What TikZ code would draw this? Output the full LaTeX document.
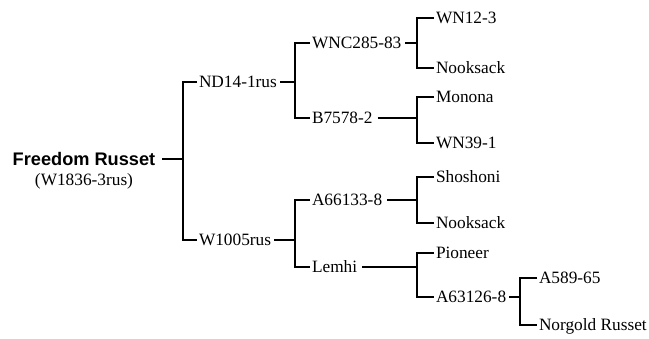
\documentclass[tikz,border=0pt]{standalone}
\usepackage{fontspec}
\setmainfont{Liberation Serif}
\newfontfamily\frsans{Liberation Sans}
\begin{document}
\begin{tikzpicture}[x=1pt,y=1pt,
  lbl/.style={anchor=west,inner sep=0pt,outer sep=2pt,text height=11.6pt,text depth=0pt,font=\fontsize{17.3}{20}\selectfont},
  conn/.style={line width=1.3pt,line join=miter},
  gap/.style={shorten <=#1}]
\useasboundingbox (0,0) rectangle (649,-339);
% root
\node[anchor=center,inner sep=0pt,outer sep=7pt,text height=12.8pt,text depth=0pt,font=\frsans\bfseries\fontsize{18.2}{20}\selectfont] (fr) at (84,-159) {Freedom Russet};
\node[anchor=center,inner sep=0pt,text height=12pt,text depth=3.5pt,font=\fontsize{17.3}{20}\selectfont] (frid) at (84,-181) {(W1836-3rus)};
% level 1
\node[lbl] (nd) at (197,-82) {ND14-1rus};
\node[lbl] (w) at (197,-240) {W1005rus};
% level 2
\node[lbl] (wnc) at (310,-43) {WNC285-83};
\node[lbl] (b75) at (310,-118) {B7578-2};
\node[lbl] (a66) at (310,-200) {A66133-8};
\node[lbl] (lem) at (310,-267) {Lemhi};
% level 3
\node[lbl] (wn12) at (434,-18) {WN12-3};
\node[lbl] (nook1) at (434,-68) {Nooksack};
\node[lbl] (mon) at (434,-97) {Monona};
\node[lbl] (wn39) at (434,-143) {WN39-1};
\node[lbl] (sho) at (434,-177) {Shoshoni};
\node[lbl] (nook2) at (434,-223) {Nooksack};
\node[lbl] (pio) at (434,-253) {Pioneer};
\node[lbl] (a63) at (434,-297) {A63126-8};
% level 4
\node[lbl] (a589) at (537,-278) {A589-65};
\node[lbl] (nor) at (537,-325) {Norgold Russet};
% junctions
\coordinate (j1) at (183,-159);
\coordinate (j2) at (295,-82);
\coordinate (j5) at (295,-240);
\coordinate (j3) at (417,-43);
\coordinate (j4) at (417,-118);
\coordinate (j6) at (417,-200);
\coordinate (j7) at (417,-267);
\coordinate (j8) at (520,-297);
% connectors
\draw[conn] (fr.east) -- (j1);
\draw[conn] (nd.west) -| (j1) |- (w.west);
\draw[conn,gap=1pt] (nd.east) -- (j2);
\draw[conn] (wnc.west) -| (j2) |- (b75.west);
\draw[conn,gap=1pt] (w.east) -- (j5);
\draw[conn] (a66.west) -| (j5) |- (lem.west);
\draw[conn,gap=2pt] (wnc.east) -- (j3);
\draw[conn] (wn12.west) -| (j3) |- (nook1.west);
\draw[conn,gap=3pt] (b75.east) -- (j4);
\draw[conn] (mon.west) -| (j4) |- (wn39.west);
\draw[conn,gap=3pt] (a66.east) -- (j6);
\draw[conn] (sho.west) -| (j6) |- (nook2.west);
\draw[conn,gap=3pt] (lem.east) -- (j7);
\draw[conn] (pio.west) -| (j7) |- (a63.west);
\draw[conn,gap=1pt] (a63.east) -- (j8);
\draw[conn] (a589.west) -| (j8) |- (nor.west);
\end{tikzpicture}
\end{document}
